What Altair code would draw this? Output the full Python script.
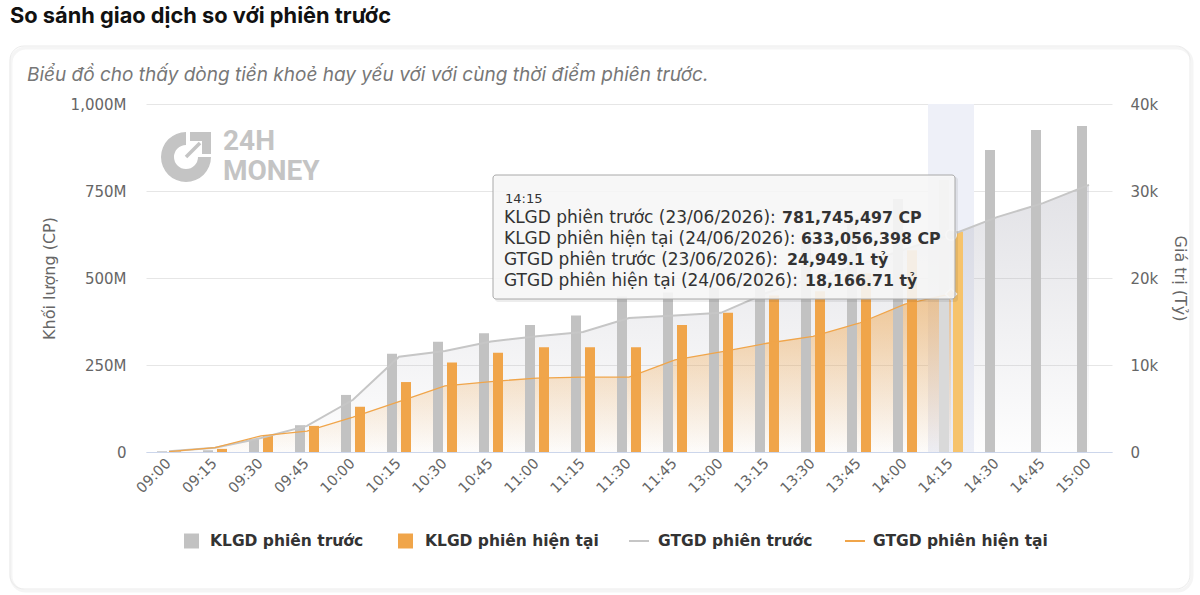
import math
import altair as alt
import pandas as pd

# ---------------- data ----------------
times = ["09:00", "09:15", "09:30", "09:45", "10:00", "10:15", "10:30", "10:45",
         "11:00", "11:15", "11:30", "11:45", "13:00", "13:15", "13:30", "13:45",
         "14:00", "14:15", "14:30", "14:45", "15:00"]
# volumes in millions of shares
klgd_prev = [2, 5, 37, 77, 164, 282, 317, 341, 365, 392, 447, 458, 472, 555, 605,
             655, 727, 781.745497, 868, 925, 937]
klgd_cur = [2, 9, 49, 75, 130, 201, 257, 285, 301, 301, 301, 365, 400, 450, 462,
            514, 580, 633.056398, None, None, None]
# values in tỷ
gtgd_prev = [100, 500, 1600, 3000, 6000, 10950, 11600, 12700, 13300, 13800, 15400,
             15700, 16000, 18300, 20000, 21500, 23300, 24949.1, 27000, 28600, 30700]
gtgd_cur = [50, 500, 1850, 2400, 4000, 5800, 7600, 8100, 8500, 8600, 8600, 10600,
            11500, 12500, 13300, 14800, 17000, 18166.71, None, None, None]

hover_time = "14:15"
series_names = ["KLGD phiên trước", "KLGD phiên hiện tại", "GTGD phiên trước", "GTGD phiên hiện tại"]
tooltip_labels = ["KLGD phiên trước (23/06/2026): ", "KLGD phiên hiện tại (24/06/2026): ",
                  "GTGD phiên trước (23/06/2026): ", "GTGD phiên hiện tại (24/06/2026): "]
tooltip_values = ["781,745,497 CP", "633,056,398 CP", "24,949.1 tỷ", "18,166.71 tỷ"]
title_text = "So sánh giao dịch so với phiên trước"
subtitle_text = "Biểu đồ cho thấy dòng tiền khoẻ hay yếu với với cùng thời điểm phiên trước."

df = pd.DataFrame({"time": times, "klgd_prev": klgd_prev, "klgd_cur": klgd_cur,
                   "gtgd_prev": gtgd_prev, "gtgd_cur": gtgd_cur})
one = alt.Data(values=[{"a": 1}])

W, H = 966, 348
FONT = "DejaVu Sans"
GRAY_BAR = "#c2c2c2"
ORANGE = "#f0a54a"
GRAY_LINE = "#c6c6c6"


def X():
    return alt.X("time:N", sort=times,
                 scale=alt.Scale(domain=times, paddingInner=0, paddingOuter=0),
                 axis=alt.Axis(title=None, labelAngle=-45, labelAlign="right",
                               labelBaseline="middle", labelPadding=9, labelFont=FONT,
                               labelFontSize=14.5, labelColor="#666666", ticks=False,
                               domainColor="#ccd6eb", domainWidth=1, grid=False))


yl_scale = alt.Scale(domain=[0, 1000], nice=False)
yr_scale = alt.Scale(domain=[0, 40000], nice=False)
yl_axis = alt.Axis(title="Khối lượng (CP)", orient="left", values=[0, 250, 500, 750, 1000],
                   labelExpr="datum.value == 0 ? '0' : format(datum.value, ',') + 'M'",
                   labelFont=FONT, labelFontSize=15, labelColor="#666666", labelPadding=20,
                   ticks=False, tickSize=0, domain=False, grid=True, gridColor="#e6e6e6",
                   titleFont=FONT, titleFontSize=16, titleFontWeight="normal",
                   titleColor="#666666", titlePadding=13)
yr_axis = alt.Axis(title="Giá trị (Tỷ)", orient="right", values=[0, 10000, 20000, 30000, 40000],
                   labelExpr="datum.value == 0 ? '0' : format(datum.value / 1000, 'd') + 'k'",
                   labelFont=FONT, labelFontSize=15, labelColor="#666666",
                   labelPadding=18, ticks=False, tickSize=0, domain=False, grid=False,
                   titleFont=FONT, titleFontSize=16, titleFontWeight="normal",
                   titleColor="#666666", titlePadding=14)


def txt(text, x, y, size=14, color="#333333", weight="normal", font=FONT, style="normal", align="left"):
    return alt.Chart(one).mark_text(text=text, align=align, baseline="middle", font=font,
                                    fontSize=size, fontWeight=weight, fontStyle=style,
                                    color=color).encode(x=alt.value(x), y=alt.value(y))


def box(x, x2, y, y2, **kw):
    return alt.Chart(one).mark_rect(**kw).encode(x=alt.value(x), x2=alt.value(x2),
                                                 y=alt.value(y), y2=alt.value(y2))


def seg(x, x2, y, y2, color, width):
    return alt.Chart(one).mark_rule(color=color, strokeWidth=width).encode(
        x=alt.value(x), x2=alt.value(x2), y=alt.value(y), y2=alt.value(y2))


# ---------------- frame / watermark ----------------
card_shadow = box(-135, 1046, -56, 487, fill="white", fillOpacity=0, stroke="#f5f5f5",
                  strokeWidth=3, cornerRadius=15)
card = box(-136, 1044, -58, 485, fill="white", fillOpacity=0, stroke="#ebebeb",
           strokeWidth=1, cornerRadius=14)
title = txt(title_text, -136, -88, size=21.8, color="#111111", weight="bold", font="Inter")
subtitle = txt(subtitle_text, -119, -29, size=19, color="#777777", font="Inter", style="italic")

WM = "#c4c4c4"
wm_ring = alt.Chart(one).mark_arc(radius=25, radius2=12, theta=math.pi / 2,
                                  theta2=2 * math.pi, color=WM).encode(
    x=alt.value(40), y=alt.value(53))
wm_top = box(44, 65, 28, 37, fill=WM)
wm_side = box(56, 65, 28, 50, fill=WM)
wm_shaft = seg(40, 54, 53, 39, WM, 3.5)
wm_24h = txt("24H", 77, 38, size=28, color=WM, weight="bold", font="Roboto")
wm_money = txt("MONEY", 77, 68, size=28, color=WM, weight="bold", font="Roboto")

# ---------------- hover band ----------------
band = alt.Chart(df).transform_filter(alt.datum.time == hover_time).mark_rect(
    color="#eef0f8").encode(x=X(), y=alt.value(0), y2=alt.value(H))

# ---------------- areas ----------------
grad_gray = alt.Gradient(gradient="linear", x1=1, x2=1, y1=0, y2=1, stops=[
    alt.GradientStop(color="rgba(165,165,178,0.32)", offset=0),
    alt.GradientStop(color="rgba(165,165,178,0.02)", offset=1)])
grad_orange = alt.Gradient(gradient="linear", x1=1, x2=1, y1=0, y2=1, stops=[
    alt.GradientStop(color="rgba(240,165,74,0.55)", offset=0),
    alt.GradientStop(color="rgba(240,165,74,0.02)", offset=1)])

area_prev = alt.Chart(df).mark_area(color=grad_gray).encode(
    x=X(), y=alt.Y("gtgd_prev:Q", scale=yr_scale, axis=None))
area_cur = alt.Chart(df).mark_area(color=grad_orange).encode(
    x=X(), y=alt.Y("gtgd_cur:Q", scale=yr_scale, axis=None))

# ---------------- bars ----------------
bar_prev = alt.Chart(df).mark_bar(width=10, xOffset=-7).encode(
    x=X(), y=alt.Y("klgd_prev:Q", scale=yl_scale, axis=yl_axis),
    color=alt.condition(alt.datum.time == hover_time, alt.value("#d9d9d9"), alt.value(GRAY_BAR)))
bar_cur = alt.Chart(df).mark_bar(width=10, xOffset=7).encode(
    x=X(), y=alt.Y("klgd_cur:Q", scale=yl_scale, axis=None),
    color=alt.condition(alt.datum.time == hover_time, alt.value("#f6c36c"), alt.value(ORANGE)))

# ---------------- lines ----------------
line_prev = alt.Chart(df).mark_line(color=GRAY_LINE, strokeWidth=2).encode(
    x=X(), y=alt.Y("gtgd_prev:Q", scale=yr_scale, axis=yr_axis))
line_cur = alt.Chart(df).mark_line(color=ORANGE, strokeWidth=1.3).encode(
    x=X(), y=alt.Y("gtgd_cur:Q", scale=yr_scale, axis=None))

pt_prev = alt.Chart(df).transform_filter(alt.datum.time == hover_time).mark_point(
    shape="circle", filled=True, size=110, fill="#d0d0d0", stroke="white", strokeWidth=1.5,
    opacity=1).encode(x=X(), y=alt.Y("gtgd_prev:Q", scale=yr_scale, axis=None))
pt_cur = alt.Chart(df).transform_filter(alt.datum.time == hover_time).mark_point(
    shape="diamond", filled=True, size=120, fill="#f3c690", stroke="white", strokeWidth=1.5,
    opacity=1).encode(x=X(), y=alt.Y("gtgd_cur:Q", scale=yr_scale, axis=None))

# ---------------- tooltip ----------------
tt_shadow = box(349, 812, 73, 198, fill="#000000", fillOpacity=0.07, cornerRadius=3)
tt_box = box(347, 809, 71, 195, fill="#f7f7f7", fillOpacity=0.9, stroke="#a8a8a8",
             strokeWidth=1, cornerRadius=3)
tt_layers = [tt_shadow, tt_box, txt(hover_time, 359, 95, size=13, color="#333333")]
tt_y = [114, 135, 156, 177]
tt_bold_x = [636, 655, 641, 659]
for i in range(4):
    tt_layers.append(txt(tooltip_labels[i], 358, tt_y[i], size=17, color="#333333"))
    tt_layers.append(txt(tooltip_values[i], tt_bold_x[i], tt_y[i], size=15.8, color="#333333",
                         weight="bold"))

# ---------------- legend ----------------
LEG_Y = 437
leg = [
    box(38, 53, LEG_Y - 7.5, LEG_Y + 7.5, fill=GRAY_BAR),
    txt(series_names[0], 64, LEG_Y, size=15.5, weight="bold", color="#333333"),
    box(252, 267, LEG_Y - 7.5, LEG_Y + 7.5, fill=ORANGE),
    txt(series_names[1], 279, LEG_Y, size=15.5, weight="bold", color="#333333"),
    seg(483, 503, LEG_Y, LEG_Y, GRAY_LINE, 2),
    txt(series_names[2], 512, LEG_Y, size=15.5, weight="bold", color="#333333"),
    seg(699, 719, LEG_Y, LEG_Y, ORANGE, 2),
    txt(series_names[3], 727, LEG_Y, size=15.5, weight="bold", color="#333333"),
]

chart = alt.layer(
    card_shadow, card, title, subtitle, wm_ring, wm_top, wm_side, wm_shaft, wm_24h, wm_money,
    band, area_prev, area_cur, bar_prev, bar_cur, line_prev, line_cur, pt_prev, pt_cur,
    *tt_layers, *leg
).resolve_scale(y="independent").properties(
    width=W, height=H,
    autosize=alt.AutoSizeParams(type="none"),
    padding={"left": 146, "top": 104, "right": 88, "bottom": 143},
    background="white",
).configure_view(stroke=None)

chart.save("out.html", embed_options={"renderer": "svg", "actions": False})
